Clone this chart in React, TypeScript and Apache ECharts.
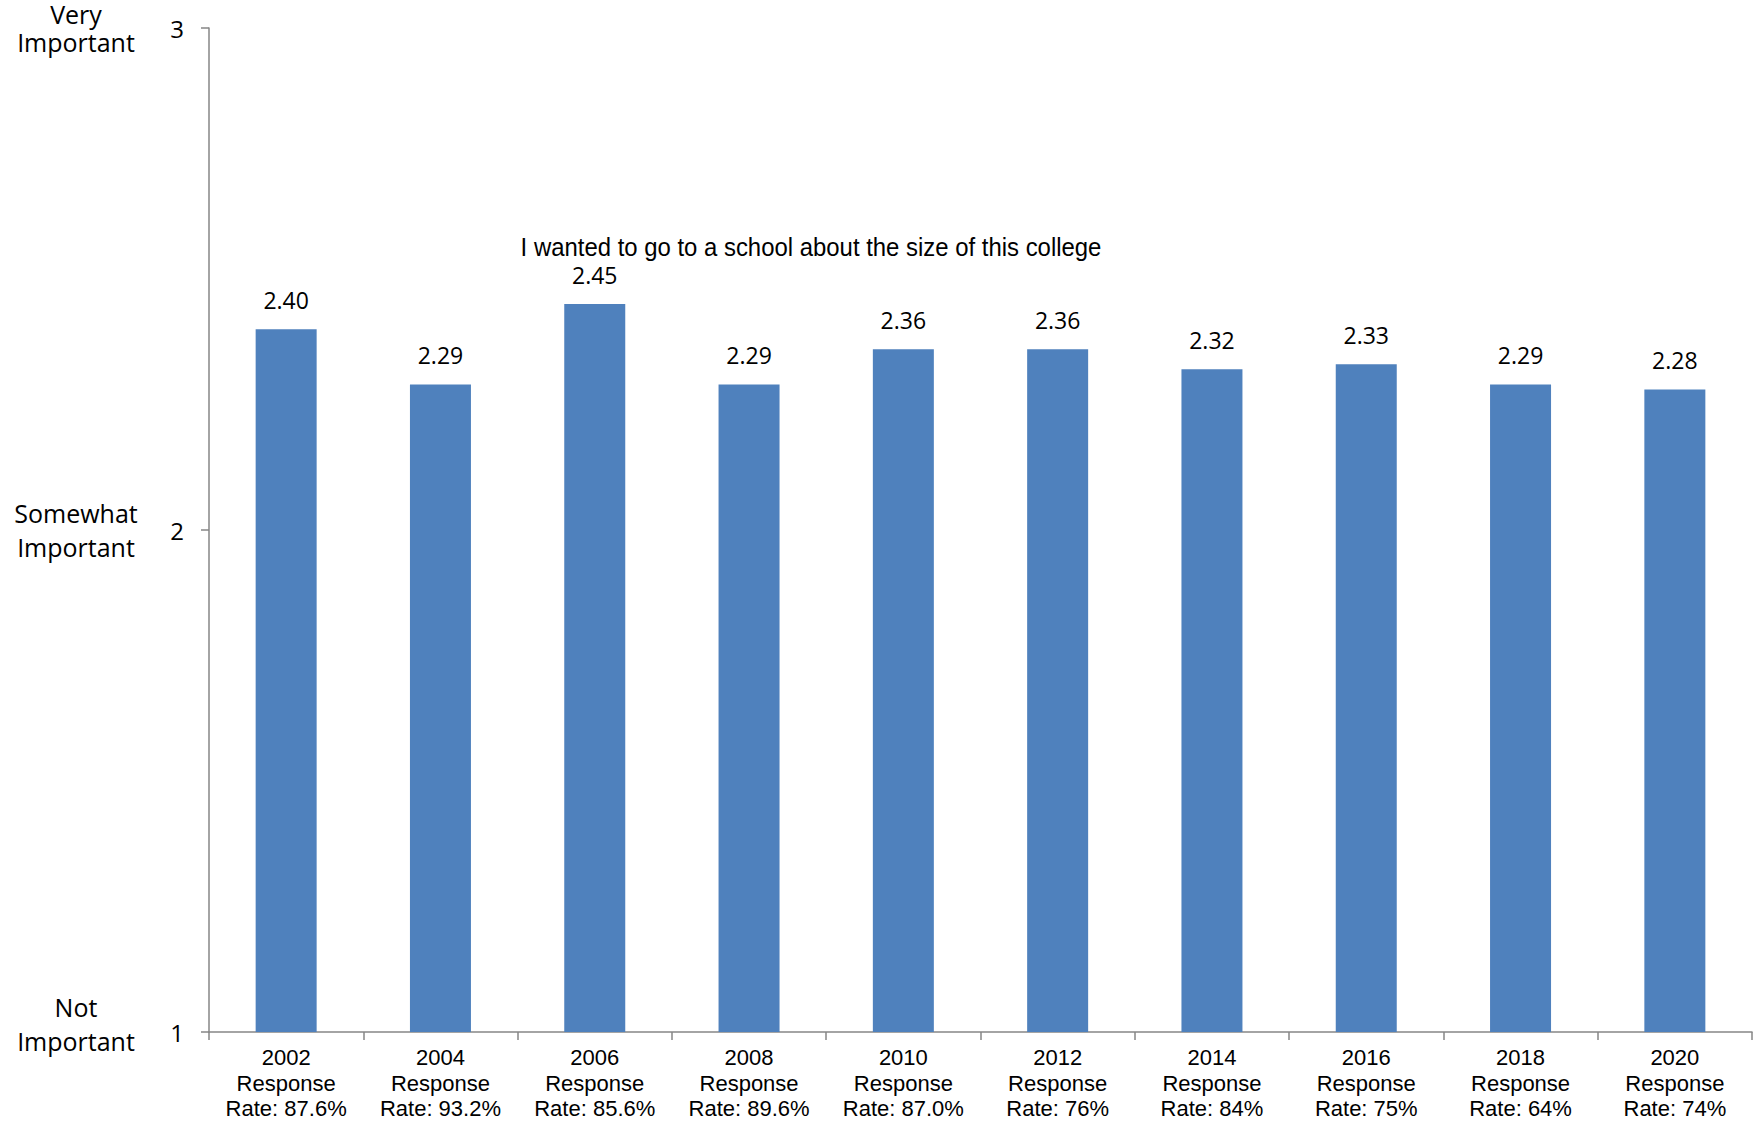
import React, { useEffect, useRef } from "react";
import * as echarts from "echarts";

const years = ["2002", "2004", "2006", "2008", "2010", "2012", "2014", "2016", "2018", "2020"];
const responseRates = ["87.6%", "93.2%", "85.6%", "89.6%", "87.0%", "76%", "84%", "75%", "64%", "74%"];
const values = [2.40, 2.29, 2.45, 2.29, 2.36, 2.36, 2.32, 2.33, 2.29, 2.28];
const yTickNames: Record<number, string> = {
  1: "Not\nImportant",
  2: "Somewhat\nImportant",
  3: "Very\nImportant",
};
const titleText = "I wanted to go to a school about the size of this college";

export default function App() {
  const ref = useRef<HTMLDivElement>(null);
  useEffect(() => {
    if (!ref.current) return;
    const chart = echarts.init(ref.current, null, { renderer: "svg" });
    const categories = years.map((y, i) => `${y}\nResponse\nRate: ${responseRates[i]}`);
    chart.setOption({
      animation: false,
      backgroundColor: "#ffffff",
      grid: {
        left: 209,
        top: 28,
        right: 1,
        bottom: 91,
        containLabel: false,
        outerBoundsMode: "none",
      },
      graphic: [
        {
          type: "text",
          x: 811,
          y: 247,
          scaleX: 0.92,
          originX: 0,
          style: {
            text: titleText,
            font: '26px "Liberation Sans", Arial, sans-serif',
            fill: "#000000",
            align: "center",
            verticalAlign: "middle",
          },
        },
      ],
      xAxis: {
        type: "category",
        data: categories,
        axisLine: { show: true, lineStyle: { color: "#868686", width: 1.5 } },
        axisTick: { show: true, length: 8, lineStyle: { color: "#868686", width: 1.5 } },
        axisLabel: {
          interval: 0,
          margin: 13,
          fontFamily: '"Liberation Sans", Arial, sans-serif',
          fontSize: 22,
          lineHeight: 25.5,
          color: "#000000",
        },
      },
      yAxis: [
        {
          type: "value",
          min: 1,
          max: 3,
          interval: 1,
          position: "left",
          axisLine: { show: true, lineStyle: { color: "#868686", width: 1.5 } },
          axisTick: { show: true, length: 8, lineStyle: { color: "#868686", width: 1.5 } },
          splitLine: { show: false },
          axisLabel: {
            margin: 25,
            formatter: (v: number) => `{num|${v}}`,
            rich: {
              num: {
                fontFamily: '"Open Sans", sans-serif',
                fontSize: 24,
                color: "#000000",
              },
            },
          },
        },
        {
          type: "value",
          min: 1,
          max: 3,
          interval: 1,
          position: "left",
          axisLine: { show: false },
          axisTick: { show: false },
          splitLine: { show: false },
          axisLabel: {
            margin: 133,
            align: "center",
            formatter: (v: number) => {
              const name = yTickNames[v] || "";
              if (v === 3) return `{top|${name}}`;
              if (v === 1) return `{bot|${name}}`;
              return `{mid|${name}}`;
            },
            rich: {
              top: {
                fontFamily: '"Open Sans", sans-serif',
                fontSize: 25,
                lineHeight: 28,
                color: "#000000",
                align: "center",
              },
              mid: {
                fontFamily: '"Open Sans", sans-serif',
                fontSize: 25,
                lineHeight: 34,
                color: "#000000",
                align: "center",
              },
              bot: {
                fontFamily: '"Open Sans", sans-serif',
                fontSize: 25,
                lineHeight: 34,
                color: "#000000",
                align: "center",
                padding: [0, 0, 17, 0],
              },
            },
          },
        },
      ],
      series: [
        {
          type: "bar",
          data: values,
          barWidth: 61,
          itemStyle: { color: "#4F81BD" },
          label: {
            show: true,
            position: "top",
            distance: 18,
            formatter: (p: any) => Number(p.value).toFixed(2),
            fontFamily: '"Open Sans", sans-serif',
            fontSize: 23,
            color: "#000000",
          },
        },
      ],
    });
    return () => chart.dispose();
  }, []);
  return (
    <div
      ref={ref}
      style={{ position: "fixed", left: 0, top: 0, width: 1753, height: 1123, background: "#fff" }}
    />
  );
}
